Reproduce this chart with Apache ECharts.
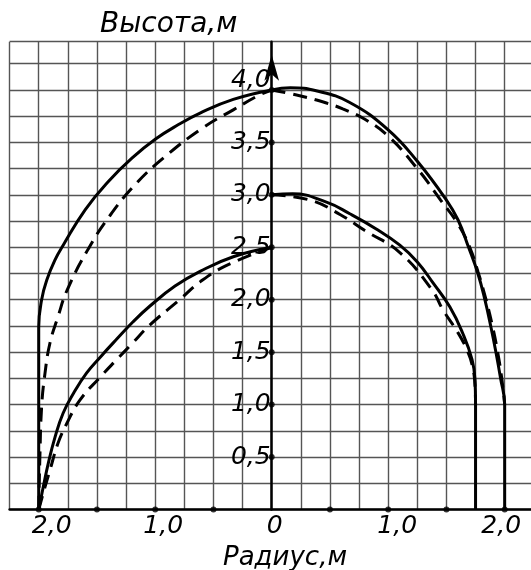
<!DOCTYPE html>
<html>
<head>
<meta charset="utf-8">
<script src="https://cdn.jsdelivr.net/npm/echarts@6/dist/echarts.min.js"></script>
<style>
  html, body { margin: 0; padding: 0; background: #fff; }
  #chart { width: 531px; height: 570px; }
</style>
</head>
<body>
<div id="chart"></div>
<script>
// радиус (м), высота (м)
const rightOuterSolid = [[0, 4.0], [0.16, 4.02], [0.39, 3.99], [0.67, 3.88], [1.0, 3.62], [1.25, 3.32], [1.5, 2.95], [1.6, 2.76], [1.69, 2.5], [1.77, 2.25], [1.83, 2.0], [1.88, 1.75], [1.925, 1.5], [1.965, 1.25], [2.0, 1.0], [2.0, 0]];
const rightOuterDashed = [[0, 4.0], [0.24, 3.945], [0.47, 3.875], [0.61, 3.82], [0.8, 3.72], [1.0, 3.56], [1.25, 3.25], [1.45, 2.95], [1.6, 2.72], [1.7, 2.5], [1.77, 2.27], [1.84, 2.0], [1.895, 1.75], [1.94, 1.5], [1.975, 1.25], [2.0, 1.0]];
const rightInnerSolid = [[0, 3.0], [0.18, 3.01], [0.47, 2.93], [0.67, 2.82], [0.89, 2.68], [1.1, 2.52], [1.25, 2.36], [1.385, 2.16], [1.53, 1.93], [1.64, 1.68], [1.72, 1.43], [1.745, 1.24], [1.75, 1.0], [1.75, 0]];
const rightInnerDashed = [[0, 3.0], [0.33, 2.95], [0.59, 2.81], [0.8, 2.66], [1.1, 2.45], [1.376, 2.094], [1.47, 1.904], [1.6, 1.684], [1.676, 1.522], [1.72, 1.38], [1.745, 1.19], [1.75, 1.0]];
const leftOuterSolid = [[-2.0, 0], [-2.0, 1.74], [-1.975, 2.0], [-1.93, 2.19], [-1.86, 2.38], [-1.79, 2.52], [-1.6, 2.86], [-1.4, 3.13], [-1.2, 3.35], [-1.0, 3.53], [-0.8, 3.67], [-0.615, 3.78], [-0.33, 3.91], [0, 4.0]];
const leftOuterDashed = [[-2.0, 0], [-1.99, 0.5], [-1.975, 0.98], [-1.946, 1.3], [-1.903, 1.59], [-1.834, 1.84], [-1.757, 2.09], [-1.577, 2.48], [-1.39, 2.8], [-1.17, 3.1], [-0.92, 3.36], [-0.59, 3.64], [-0.33, 3.81], [-0.1, 3.955], [0, 4.0]];
const leftInnerSolid = [[-2.0, 0], [-1.96, 0.22], [-1.918, 0.44], [-1.86, 0.69], [-1.79, 0.92], [-1.7, 1.11], [-1.59, 1.3], [-1.47, 1.455], [-1.33, 1.625], [-1.19, 1.79], [-1.045, 1.94], [-0.83, 2.13], [-0.615, 2.27], [-0.33, 2.41], [0, 2.5]];
const leftInnerDashed = [[-2.0, 0], [-1.95, 0.2], [-1.903, 0.377], [-1.834, 0.634], [-1.757, 0.825], [-1.645, 1.045], [-1.474, 1.26], [-1.33, 1.43], [-1.2, 1.58], [-1.045, 1.76], [-0.79, 2.0], [-0.615, 2.17], [-0.4, 2.32], [0, 2.5]];

// деления на осях и подписи
const xTickDots = [-2, -1.5, -1, -0.5, 0.5, 1, 1.5, 2];
const yTickDots = [0.5, 1, 1.5, 2, 2.5, 3, 3.5, 4];
const xLabelValues = [-2, -1, 0, 1, 2];
const xLabelTexts = ['2,0', '1,0', '0', '1,0', '2,0'];
const yLabelValues = [0.5, 1, 1.5, 2, 2.5, 3, 3.5, 4];
const yLabelTexts = ['0,5', '1,0', '1,5', '2,0', '2,5', '3,0', '3,5', '4,0'];

const FONT = 'DejaVu Sans';
const labelFont = { fontFamily: FONT, fontStyle: 'italic', fontSize: 25, color: '#000' };

const GRID_LEFT = 9.6;
const GRID_WIDTH = 524.2;
const X_MIN = -2.25;
const X_MAX = 2.25;
// ось высот проходит через ноль радиуса
const zeroOffset = (0 - X_MIN) / (X_MAX - X_MIN) * GRID_WIDTH;

const findIndex = (list, v) => list.findIndex((x) => Math.abs(x - v) < 1e-6);

const chart = echarts.init(document.getElementById('chart'));

const curve = (data, dashed) => ({
  type: 'line',
  data,
  symbol: 'none',
  smooth: 0.45,
  silent: true,
  z: 3,
  lineStyle: { color: '#000', width: 3, type: dashed ? [14, 8] : 'solid' },
});

chart.setOption({
  animation: false,
  title: [
    { text: 'Высота,м', left: 95, top: 6, textStyle: { ...labelFont, fontSize: 28, fontWeight: 'normal' } },
    { text: 'Радиус,м', left: 218, top: 540, textStyle: { ...labelFont, fontSize: 26, fontWeight: 'normal' } },
  ],
  grid: { left: GRID_LEFT, top: 41.7, width: GRID_WIDTH, height: 467.8, outerBoundsMode: 'none', containLabel: false },
  xAxis: {
    type: 'value',
    min: X_MIN,
    max: X_MAX,
    interval: 0.25,
    axisLine: { onZero: true, lineStyle: { color: '#000', width: 2.5 } },
    axisTick: { show: false },
    splitLine: { show: true, lineStyle: { color: '#555', width: 1.4 } },
    axisLabel: {
      margin: 4,
      showMinLabel: false,
      showMaxLabel: false,
      formatter: (v) => {
        const i = findIndex(xLabelValues, v);
        return i < 0 ? '' : `{k${i}|${xLabelTexts[i]}}`;
      },
      rich: {
        k0: { ...labelFont, padding: [0, 0, 0, 26] },
        k1: { ...labelFont, padding: [0, 0, 0, 16] },
        k2: { ...labelFont, padding: [0, 0, 0, 6] },
        k3: { ...labelFont, padding: [0, 0, 0, 18] },
        k4: { ...labelFont, padding: [0, 7, 0, 0] },
      },
    },
  },
  yAxis: {
    type: 'value',
    position: 'left',
    offset: -zeroOffset,
    min: 0,
    max: 4.46,
    interval: 0.25,
    axisLine: {
      onZero: false,
      symbol: ['none', 'arrow'],
      symbolSize: [11, 26],
      symbolOffset: [0, -13],
      lineStyle: { color: '#000', width: 2.5 },
    },
    axisTick: { show: false },
    splitLine: { show: true, lineStyle: { color: '#555', width: 1.4 } },
    axisLabel: {
      margin: 1,
      formatter: (v) => {
        const i = findIndex(yLabelValues, v);
        if (i < 0) return '';
        return v === 4 ? `{t|${yLabelTexts[i]}}` : `{s|${yLabelTexts[i]}}`;
      },
      rich: {
        s: { ...labelFont },
        t: { ...labelFont, padding: [0, 0, 18, 0] },
      },
    },
  },
  series: [
    curve(rightOuterSolid, false),
    curve(rightOuterDashed, true),
    curve(rightInnerSolid, false),
    curve(rightInnerDashed, true),
    curve(leftOuterSolid, false),
    curve(leftOuterDashed, true),
    curve(leftInnerSolid, false),
    curve(leftInnerDashed, true),
    {
      type: 'scatter',
      data: xTickDots.map((x) => [x, 0]),
      symbolSize: 6,
      itemStyle: { color: '#000' },
      silent: true,
      z: 4,
    },
    {
      type: 'scatter',
      data: yTickDots.map((y) => [0, y]),
      symbolSize: 6,
      itemStyle: { color: '#000' },
      silent: true,
      z: 4,
    },
  ],
});
</script>
</body>
</html>
